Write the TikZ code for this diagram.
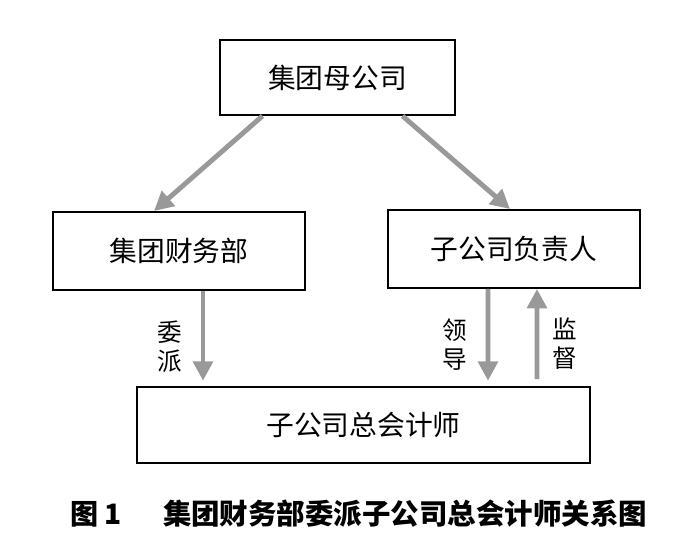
\documentclass[tikz,border=0pt]{standalone}
\usepackage{fontspec}
\setmainfont{Noto Sans CJK SC}
\usetikzlibrary{arrows.meta}
\usetikzlibrary{calc}

\begin{document}
\begin{tikzpicture}[x=0.02cm,y=-0.02cm,
box/.style={draw,line width=1.1pt,font=\fontsize{15.8}{18}\selectfont},
rel/.style={draw=black!40,line width=2.8pt,-{Triangle[length=11pt,width=11pt]}},
tag/.style={align=center,font=\fontsize{14}{16.5}\selectfont,inner sep=0pt}]
\useasboundingbox (0,0) rectangle (698,542);
\node[box,minimum width=4.7cm,minimum height=1.5cm] (top) at (337.5,77.5) {集团母公司};
\node[box,minimum width=5.04cm,minimum height=1.56cm] (fin) at (179,251) {集团财务部};
\node[box,minimum width=5.04cm,minimum height=1.56cm] (head) at (514,249) {子公司负责人};
\node[box,minimum width=9.06cm,minimum height=1.52cm] (acct) at (363.5,425) {子公司总会计师};
% arrows between boxes
\draw[rel] ($(top.south)+(-75,0)$) -- ($(fin.north)+(-25,0)$);
\draw[rel] ($(top.south)+(65,0)$) -- ($(head.north)+(-4,0)$);
\draw[rel,shorten >=3pt] ($(fin.south)+(24,0)$) -- ($(acct.north)+(-160.5,0)$);
\draw[rel,shorten >=3pt] ($(head.south)+(-26,0)$) -- ($(acct.north)+(124.5,0)$);
\draw[rel,shorten <=4pt] ($(acct.north)+(173.5,0)$) -- ($(head.south)+(23,0)$);
\node[tag] (assign) at (170,347) {委\\派};
\node[tag] (lead) at (455,345) {领\\导};
\node[tag] (watch) at (565,344) {监\\督};
% caption
\node[font=\fontsize{16}{18}\selectfont\bfseries] (capnum) at (96,514) {图 1};
\node[font=\fontsize{16.2}{18}\selectfont\bfseries] (captext) at (405,514) {集团财务部委派子公司总会计师关系图};
\end{tikzpicture}
\end{document}
